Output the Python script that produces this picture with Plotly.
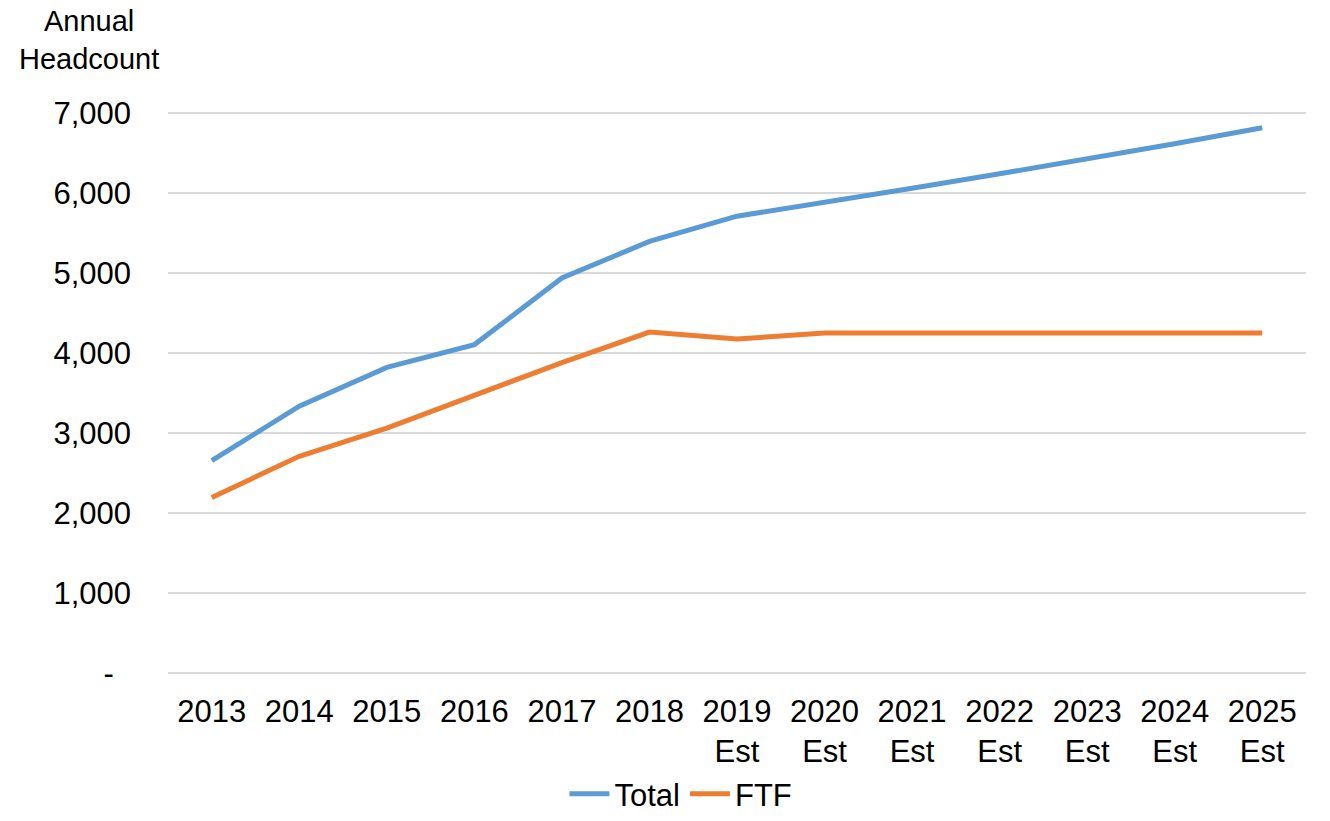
import plotly.graph_objects as go

# Annual headcount, actuals 2013-2018 and estimates 2019-2025
years = ["2013", "2014", "2015", "2016", "2017", "2018", "2019<br>Est",
         "2020<br>Est", "2021<br>Est", "2022<br>Est", "2023<br>Est",
         "2024<br>Est", "2025<br>Est"]
total = [2655, 3335, 3820, 4105, 4937, 5395, 5710, 5880, 6060, 6240, 6425, 6615, 6815]
ftf = [2195, 2708, 3062, 3475, 3880, 4262, 4175, 4250, 4250, 4250, 4250, 4250, 4250]

y_ticks = [0, 1000, 2000, 3000, 4000, 5000, 6000, 7000]
y_tick_text = ["-\u00a0\u00a0", "1,000", "2,000", "3,000", "4,000", "5,000", "6,000", "7,000"]

FONT = "Liberation Sans, Arial, sans-serif"

fig = go.Figure()
fig.add_trace(go.Scatter(x=years, y=total, name="Total", mode="lines",
                         line=dict(color="#5B9BD5", width=5)))
fig.add_trace(go.Scatter(x=years, y=ftf, name="FTF", mode="lines",
                         line=dict(color="#ED7D31", width=5)))

fig.update_layout(
    width=1330, height=821,
    margin=dict(l=168, r=24, t=105, b=141),
    paper_bgcolor="white", plot_bgcolor="white",
    font=dict(family=FONT, size=31, color="#000000"),
    showlegend=True,
    legend=dict(orientation="h", xref="container", yref="container",
                x=0.512, xanchor="center", y=0.0, yanchor="bottom",
                font=dict(size=31), itemwidth=40, tracegroupgap=0),
    annotations=[dict(text="Annual<br>Headcount", xref="paper", yref="paper",
                      x=-0.069, y=1.178, xanchor="center", yanchor="top",
                      showarrow=False, font=dict(size=29))],
)
fig.update_xaxes(type="category", range=[-0.5, len(years) - 0.5], automargin=False,
                 showgrid=False, showline=False, zeroline=False,
                 ticks="", tickfont=dict(size=31), ticklabelstandoff=10)
# padded range so the 0 and 7,000 gridlines are drawn inside the plot area
fig.update_yaxes(range=[-87.5, 7100], tickvals=y_ticks, ticktext=y_tick_text,
                 automargin=False,
                 showgrid=True, gridcolor="#D9D9D9", gridwidth=1.5,
                 zeroline=False, showline=False, ticks="",
                 tickfont=dict(size=31), ticklabelstandoff=36)

fig.write_html("out.html")
